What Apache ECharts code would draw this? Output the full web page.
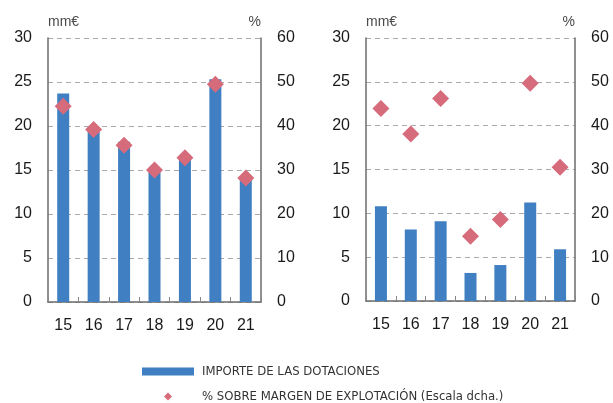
<!DOCTYPE html>
<html>
<head>
<meta charset="utf-8">
<script src="https://cdn.jsdelivr.net/npm/echarts@6/dist/echarts.min.js"></script>
<style>
  html, body { margin: 0; padding: 0; background: #fff; }
  #main { width: 613px; height: 403px; }
</style>
</head>
<body>
<div id="main"></div>
<script>
var years = ['15', '16', '17', '18', '19', '20', '21'];

// left panel
var importe_a = [23.7, 19.6, 18.2, 15.0, 16.4, 25.3, 14.3];
var pct_a = [44.5, 39.2, 35.6, 30.0, 32.8, 49.5, 28.2];

// right panel
var importe_b = [10.8, 8.15, 9.1, 3.2, 4.1, 11.25, 5.9];
var pct_b = [43.9, 38.1, 46.2, 14.8, 18.6, 49.7, 30.5];

var leftTicks = [0, 30, 5];
var rightTicks = [0, 60, 10];

var blue = '#3f7fc2';
var pink = '#d66b7b';
var font = 'Liberation Sans, Arial, sans-serif';
var narrow = 'DejaVu Sans Condensed, Liberation Sans Narrow, sans-serif';

var chart = echarts.init(document.getElementById('main'), null, {renderer: 'canvas'});

function xAx(gi) {
    return {
        type: 'category',
        gridIndex: gi,
        data: years,
        axisLine: {show: true, lineStyle: {color: '#6b6b6b', width: 1.5}},
        axisTick: {show: true, inside: true, length: 5, lineStyle: {color: '#888'}},
        axisLabel: {color: '#1a1a1a', fontSize: 16, fontFamily: font, margin: 16}
    };
}

function yAx(gi, pos, t, name) {
    var left = pos === 'left';
    return {
        type: 'value',
        gridIndex: gi,
        position: pos,
        min: t[0],
        max: t[1],
        interval: t[2],
        name: name,
        nameLocation: 'end',
        nameGap: 9,
        nameTextStyle: {
            color: '#4a4a4a', fontSize: 14, fontFamily: font,
            align: left ? 'left' : 'right'
        },
        axisLine: {show: true, lineStyle: {color: '#6b6b6b', width: 1.5}},
        axisTick: {show: false},
        axisLabel: {color: '#1a1a1a', fontSize: 16, fontFamily: font, margin: 16},
        splitLine: {show: left, lineStyle: {color: '#aaa', type: [5, 4], width: 1}}
    };
}

var option = {
    animation: false,
    backgroundColor: '#fff',
    grid: [
        {left: 48, right: 352, top: 38, bottom: 101},
        {left: 366, right: 38, top: 38, bottom: 102}
    ],
    xAxis: [xAx(0), xAx(1)],
    yAxis: [
        yAx(0, 'left', leftTicks, 'mm€'),
        yAx(0, 'right', rightTicks, '%'),
        yAx(1, 'left', leftTicks, 'mm€'),
        yAx(1, 'right', rightTicks, '%')
    ],
    legend: [{
        data: [{name: 'IMPORTE DE LAS DOTACIONES', icon: 'rect'}],
        left: 142,
        top: 365,
        padding: 0,
        itemWidth: 52,
        itemHeight: 8,
        textStyle: {color: '#333', fontSize: 13, fontFamily: narrow, padding: [0, 0, 0, 3]}
    }, {
        data: [{name: '% SOBRE MARGEN DE EXPLOTACIÓN (Escala dcha.)', icon: 'diamond'}],
        left: 164,
        top: 390,
        padding: 0,
        itemWidth: 8,
        itemHeight: 8,
        textStyle: {color: '#333', fontSize: 13, fontFamily: narrow, padding: [0, 0, 0, 25]}
    }],
    series: [
        {name: 'IMPORTE DE LAS DOTACIONES', type: 'bar', xAxisIndex: 0, yAxisIndex: 0,
         data: importe_a, barWidth: 12, itemStyle: {color: blue}},
        {name: '% SOBRE MARGEN DE EXPLOTACIÓN (Escala dcha.)', type: 'scatter', xAxisIndex: 0, yAxisIndex: 1,
         data: pct_a, symbol: 'diamond', symbolSize: 17, itemStyle: {color: pink, opacity: 1}, z: 3},
        {name: 'IMPORTE DE LAS DOTACIONES', type: 'bar', xAxisIndex: 1, yAxisIndex: 2,
         data: importe_b, barWidth: 12, itemStyle: {color: blue}},
        {name: '% SOBRE MARGEN DE EXPLOTACIÓN (Escala dcha.)', type: 'scatter', xAxisIndex: 1, yAxisIndex: 3,
         data: pct_b, symbol: 'diamond', symbolSize: 17, itemStyle: {color: pink, opacity: 1}, z: 3}
    ]
};

chart.setOption(option);
</script>
</body>
</html>
